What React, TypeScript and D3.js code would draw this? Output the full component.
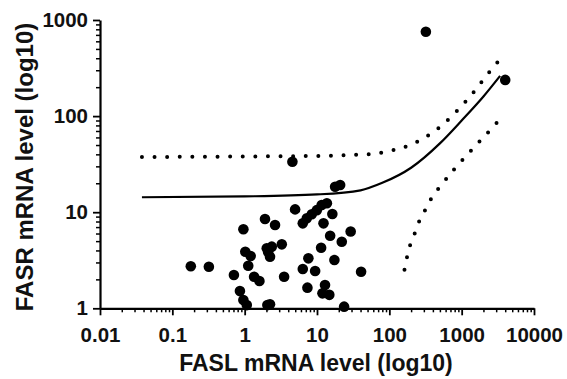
import * as React from 'react'
import { useEffect, useRef } from 'react'
import * as d3 from 'd3'

// scatter points: FASL (x) vs FASR (y)
const faslValues = [
  0.18, 0.32, 0.71, 0.96, 1.02, 1.21, 1.12, 1.35, 1.6, 0.86, 0.96, 1.07,
  1.91, 2.06, 2.63, 2.02, 2.37, 3.26, 2.24, 2.11, 3.51, 2.24, 4.98, 6.36,
  7.23, 8.47, 9.94, 11.6, 13.7, 16.3, 12.3, 15.2, 22.0, 29.2, 11.4, 7.6,
  17.4, 6.36, 9.42, 40.7, 7.37, 12.9, 11.9, 14.8, 23.7, 17.8, 20.9, 4.57,
  320, 4000,
]
const fasrValues = [
  2.74, 2.71, 2.22, 6.64, 3.88, 3.5, 2.77, 2.13, 1.92, 1.51, 1.22, 1.08,
  8.5, 1.08, 7.36, 4.21, 4.38, 4.63, 3.44, 3.85, 2.13, 1.1, 10.7, 7.66,
  8.64, 9.51, 10.5, 11.9, 12.4, 9.58, 7.66, 5.69, 4.93, 6.3, 4.27, 3.31,
  3.18, 2.56, 2.44, 2.4, 1.64, 1.75, 1.43, 1.38, 1.04, 18.4, 19.2, 33.5,
  755, 238,
]

// regression line and 95% band
const fitX = [0.038, 1, 10, 40, 80, 200, 500, 1000, 2000, 3400]
const fitY = [14.3, 14.6, 15.3, 16.9, 20.2, 29, 52, 90, 160, 262]
const upperX = [0.038, 1, 10, 60, 95, 212, 436, 800, 1406, 2345, 3945]
const upperY = [37.5, 38, 38.5, 40.5, 42.9, 51.5, 71, 107, 171, 279, 445]
const lowerX = [162, 175, 194, 226, 261, 317, 387, 496, 843, 1483, 2576, 3388]
const lowerY = [2.52, 3.36, 4.56, 6.1, 8.16, 10.7, 14.2, 18.2, 29.7, 47.2, 73.8, 92.9]

const xTicks = [0.01, 0.1, 1, 10, 100, 1000, 10000]
const yTicks = [1, 10, 100, 1000]

const WIDTH = 567
const HEIGHT = 379
const FONT = '"Liberation Sans", Arial, sans-serif'

function ScatterFit() {
  const svgRef = useRef<SVGSVGElement>(null)

  useEffect(() => {
    if (!svgRef.current) return
    const svg = d3.select(svgRef.current)
    svg.selectAll('*').remove()

    const x = d3.scaleLog().domain([0.01, 10000]).range([100, 534])
    const y = d3.scaleLog().domain([1, 1000]).range([308.3, 20])

    const minor = (ticks: number[]) =>
      ticks.slice(0, -1).flatMap(t => d3.range(2, 10).map(k => t * k))

    // minor ticks
    svg.append('g')
      .attr('transform', 'translate(0,308.3)')
      .call(d3.axisBottom(x).tickValues(minor(xTicks)).tickSize(4).tickSizeOuter(0).tickFormat(() => '') as any)
      .call(g => g.select('.domain').remove())
      .selectAll('line').attr('stroke', '#000').attr('stroke-width', 1.5)

    svg.append('g')
      .attr('transform', 'translate(100,0)')
      .call(d3.axisLeft(y).tickValues(minor(yTicks)).tickSize(4).tickSizeOuter(0).tickFormat(() => '') as any)
      .call(g => g.select('.domain').remove())
      .selectAll('line').attr('stroke', '#000').attr('stroke-width', 1.5)

    // major axes
    const xAxis = svg.append('g')
      .attr('transform', 'translate(0,308.3)')
      .call(d3.axisBottom(x).tickValues(xTicks).tickSize(7).tickSizeOuter(0).tickPadding(12)
        .tickFormat(d => String(d)) as any)
    const yAxis = svg.append('g')
      .attr('transform', 'translate(100,0)')
      .call(d3.axisLeft(y).tickValues(yTicks).tickSize(7).tickSizeOuter(0).tickPadding(5)
        .tickFormat(d => String(d)) as any)

    ;[xAxis, yAxis].forEach(g => {
      g.select('.domain').attr('stroke', '#000').attr('stroke-width', 2.2)
      g.selectAll('line').attr('stroke', '#000').attr('stroke-width', 1.8)
      g.selectAll('text')
        .attr('fill', '#111')
        .style('font-family', FONT)
        .style('font-size', '20.5px')
        .style('font-weight', 'bold')
    })

    // fit line and confidence band
    const line = d3.line<[number, number]>()
      .x(d => x(d[0]))
      .y(d => y(d[1]))
      .curve(d3.curveMonotoneX)

    const zip = (xs: number[], ys: number[]) => xs.map((v, i) => [v, ys[i]] as [number, number])

    ;[zip(upperX, upperY), zip(lowerX, lowerY)].forEach(band => {
      svg.append('path')
        .attr('d', line(band))
        .attr('fill', 'none')
        .attr('stroke', '#000')
        .attr('stroke-width', 4)
        .attr('stroke-linecap', 'round')
        .attr('stroke-dasharray', '0 12.6')
    })

    svg.append('path')
      .attr('d', line(zip(fitX, fitY)))
      .attr('fill', 'none')
      .attr('stroke', '#000')
      .attr('stroke-width', 2.2)

    // points
    svg.append('g')
      .selectAll('circle')
      .data(zip(faslValues, fasrValues))
      .join('circle')
      .attr('cx', d => x(d[0]))
      .attr('cy', d => y(d[1]))
      .attr('r', 5.3)
      .attr('fill', '#000')

    // axis titles
    svg.append('text')
      .attr('x', 316)
      .attr('y', 371)
      .attr('text-anchor', 'middle')
      .attr('fill', '#111')
      .style('font-family', FONT)
      .style('font-size', '23px')
      .style('font-weight', 'bold')
      .text('FASL mRNA level (log10)')

    svg.append('text')
      .attr('transform', 'translate(33,167) rotate(-90)')
      .attr('text-anchor', 'middle')
      .attr('fill', '#111')
      .style('font-family', FONT)
      .style('font-size', '24px')
      .style('font-weight', 'bold')
      .text('FASR mRNA level (log10)')
  }, [])

  return (
    <svg
      ref={svgRef}
      width={WIDTH}
      height={HEIGHT}
      style={{ position: 'absolute', left: 0, top: 0, background: '#fff' }}
    />
  )
}

export default function App() {
  return <ScatterFit />
}
